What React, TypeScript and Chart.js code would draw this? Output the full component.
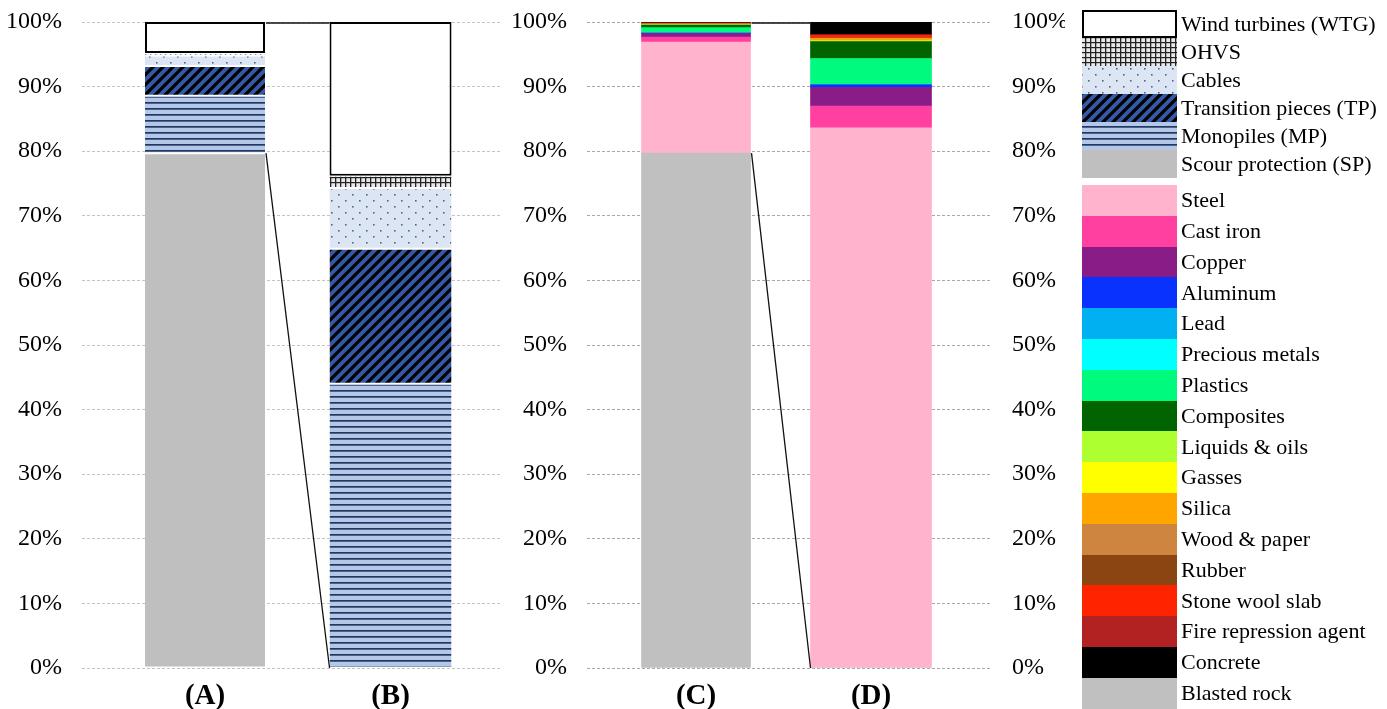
import React, { useEffect, useRef } from 'react';
import { Chart, registerables } from 'chart.js';

Chart.register(...registerables);

const FONT = "'Liberation Serif', 'Times New Roman', serif";

// ---------- Left panel: components (bottom -> top) ----------
const PANEL1_BARS = ['(A)', '(B)'];
const COMPONENTS = ['Scour protection (SP)', 'Monopiles (MP)', 'Transition pieces (TP)', 'Cables', 'OHVS', 'Wind turbines (WTG)'];
const COMPONENT_KEYS = ['SP', 'MP', 'TP', 'Cables', 'OHVS', 'WTG'];
const BAR_A = [79.7, 8.9, 4.6, 1.6, 0.4, 4.8];
const BAR_B = [0, 44.0, 20.9, 9.4, 1.9, 23.8];

// ---------- Right panel: materials (bottom -> top) ----------
const PANEL2_BARS = ['(C)', '(D)'];
const MATERIALS = [
  'Blasted rock', 'Steel', 'Cast iron', 'Copper', 'Aluminum', 'Lead', 'Precious metals', 'Plastics',
  'Composites', 'Liquids & oils', 'Gasses', 'Silica', 'Wood & paper', 'Rubber', 'Stone wool slab',
  'Fire repression agent', 'Concrete',
];
const MATERIAL_COLORS = [
  '#C0C0C0', '#FFB3CD', '#FF40A0', '#8A1C88', '#0A32FF', '#00B0F0', '#00FFFF', '#00FA7E',
  '#006400', '#ADFF2F', '#FFFF00', '#FFA500', '#CD853F', '#8B4513', '#FF2400',
  '#B22222', '#000000',
];
const BAR_C = [79.7, 17.2, 0.75, 0.6, 0.05, 0.01, 0.01, 0.8, 0.4, 0.03, 0.02, 0.1, 0.03, 0.03, 0.1, 0.02, 0.15];
const BAR_D = [0, 83.63, 3.35, 2.9, 0.4, 0.05, 0.02, 4.0, 2.6, 0.1, 0.05, 0.35, 0.05, 0.05, 0.4, 0.1, 1.95];

const Y_TICKS_STEP = 10;

function makeFill(kind: string): any {
  const c = document.createElement('canvas');
  const g = c.getContext('2d')!;
  switch (kind) {
    case 'SP':
      return '#BFBFBF';
    case 'WTG':
      return '#FFFFFF';
    case 'MP':
      c.width = 8; c.height = 6;
      g.fillStyle = '#B4C7E7'; g.fillRect(0, 0, 8, 6);
      g.fillStyle = '#1F3864'; g.fillRect(0, 0, 8, 1.7);
      break;
    case 'TP':
      c.width = 10; c.height = 10;
      g.fillStyle = '#3559A6'; g.fillRect(0, 0, 10, 10);
      g.strokeStyle = '#000'; g.lineWidth = 3.2;
      g.beginPath();
      g.moveTo(-5, 5); g.lineTo(5, -5);
      g.moveTo(0, 10); g.lineTo(10, 0);
      g.moveTo(5, 15); g.lineTo(15, 5);
      g.stroke();
      break;
    case 'Cables':
      c.width = 14; c.height = 12;
      g.fillStyle = '#DCE5F4'; g.fillRect(0, 0, 14, 12);
      g.fillStyle = '#55657F';
      g.fillRect(2, 2, 1.6, 1.6); g.fillRect(9, 8, 1.6, 1.6);
      break;
    case 'OHVS':
      c.width = 5; c.height = 5;
      g.fillStyle = '#E8E8E8'; g.fillRect(0, 0, 5, 5);
      g.fillStyle = '#222';
      g.fillRect(0, 0, 1.3, 5); g.fillRect(0, 2, 5, 1.2);
      break;
  }
  return g.createPattern(c, 'repeat');
}

const fitVertical = (width: number) => (s: any) => {
  s.width = width;
  s.paddingTop = 0;
  s.paddingBottom = 0;
};

const yAxis = (gridColor: string) => ({
  min: 0,
  max: 100,
  stacked: true,
  grid: { color: gridColor, drawTicks: false, lineWidth: 1 },
  border: { display: false, dash: [3, 2] },
  afterFit: fitVertical(82),
  ticks: {
    stepSize: Y_TICKS_STEP,
    padding: 20,
    color: '#000',
    font: { family: FONT, size: 24 },
    callback: (v: any) => v + '%',
  },
});

const xAxis = (labels: string[], min: number, max: number) => ({
  type: 'linear',
  min,
  max,
  offset: false,
  stacked: true,
  grid: { display: false, drawTicks: false, offset: false },
  border: { display: false },
  afterBuildTicks: (s: any) => { s.ticks = labels.map((_, i) => ({ value: i })); },
  afterFit: (s: any) => { s.height = 41; },
  ticks: {
    autoSkip: false,
    maxRotation: 0,
    padding: 11,
    color: '#000',
    font: { family: FONT, size: 29, weight: 'bold' },
    callback: (v: any) => labels[v] ?? '',
  },
});

const connectorPlugin = (perBar: number, low: number) => ({
  id: 'connectors',
  afterDatasetsDraw(chart: any) {
    const ctx = chart.ctx;
    const y = chart.scales.y;
    const ea = chart.getDatasetMeta(0).data[0];
    const eb = chart.getDatasetMeta(perBar).data[0];
    const ax = ea.x + ea.width / 2 + 1;
    const bx = eb.x - eb.width / 2;
    ctx.save();
    ctx.strokeStyle = '#111';
    ctx.lineWidth = 1.3;
    ctx.beginPath();
    ctx.moveTo(ax, y.getPixelForValue(100) + 1);
    ctx.lineTo(bx, y.getPixelForValue(100) + 1);
    ctx.moveTo(ax, y.getPixelForValue(low));
    ctx.lineTo(bx, y.getPixelForValue(0));
    ctx.stroke();
    ctx.restore();
  },
});

const legendPlugin = {
  id: 'customLegend',
  afterDraw(chart: any) {
    const ctx = chart.ctx;
    const boxX = 577;
    const boxW = 95;
    ctx.save();
    ctx.font = `22px ${FONT}`;
    ctx.textBaseline = 'middle';
    ctx.textAlign = 'left';
    // components legend (top -> bottom)
    const compOrder = COMPONENTS.map((_, i) => i).reverse();
    const top1 = 10, h1 = 28;
    compOrder.forEach((ci, k) => {
      const y0 = top1 + k * h1;
      ctx.fillStyle = makeFill(COMPONENT_KEYS[ci]);
      ctx.fillRect(boxX, y0, boxW, h1);
      if (COMPONENT_KEYS[ci] === 'WTG') {
        ctx.strokeStyle = '#000';
        ctx.lineWidth = 2;
        ctx.strokeRect(boxX + 1, y0 + 1, boxW - 2, h1 - 2);
      }
      ctx.fillStyle = '#000';
      ctx.fillText(COMPONENTS[ci], boxX + boxW + 4, y0 + h1 / 2 + 1);
    });
    // materials legend
    const matOrder = MATERIALS.map((_, i) => i).slice(1).concat([0]);
    const top2 = 185, h2 = 30.8;
    matOrder.forEach((mi, k) => {
      const y0 = top2 + k * h2;
      ctx.fillStyle = MATERIAL_COLORS[mi];
      ctx.fillRect(boxX, Math.round(y0), boxW, Math.round(y0 + h2) - Math.round(y0));
      ctx.fillStyle = '#000';
      ctx.fillText(MATERIALS[mi], boxX + boxW + 4, y0 + h2 / 2 + 1);
    });
    ctx.restore();
  },
};

export default function App() {
  const ref1 = useRef<HTMLCanvasElement>(null);
  const ref2 = useRef<HTMLCanvasElement>(null);

  useEffect(() => {
    const bars1 = [BAR_A, BAR_B];
    const widths1 = [120, 122];
    const ds1: any[] = [];
    bars1.forEach((vals, b) => {
      vals.forEach((v, i) => {
        const key = COMPONENT_KEYS[i];
        const isWtg = key === 'WTG';
        ds1.push({
          label: COMPONENTS[i],
          data: [{ x: b, y: v }],
          backgroundColor: makeFill(key),
          borderColor: isWtg ? '#000' : '#FFFFFF',
          borderWidth: isWtg ? 2 : { top: 1, bottom: 1, left: 0, right: 0 },
          borderSkipped: false,
          inflateAmount: 0,
          barThickness: widths1[b],
        });
      });
    });

    const bars2 = [BAR_C, BAR_D];
    const widths2 = [109, 121];
    const ds2: any[] = [];
    bars2.forEach((vals, b) => {
      vals.forEach((v, i) => {
        ds2.push({
          label: MATERIALS[i],
          data: [{ x: b, y: v }],
          backgroundColor: MATERIAL_COLORS[i],
          borderWidth: 0,
          barThickness: widths2[b],
        });
      });
    });

    const c1 = new Chart(ref1.current!, {
      type: 'bar',
      data: { datasets: ds1 },
      options: {
        responsive: false,
        animation: false,
        layout: { padding: { top: 22, right: 5, bottom: 0, left: 0 } },
        plugins: { legend: { display: false }, tooltip: { enabled: false } },
        scales: {
          x: xAxis(PANEL1_BARS, -0.663, 1.59) as any,
          y: yAxis('#C4C4C4') as any,
        },
      },
      plugins: [connectorPlugin(COMPONENTS.length, BAR_A[0])],
    });

    const c2 = new Chart(ref2.current!, {
      type: 'bar',
      data: { datasets: ds2 },
      options: {
        responsive: false,
        animation: false,
        layout: { padding: { top: 22, right: 322, bottom: 0, left: 0 } },
        plugins: { legend: { display: false }, tooltip: { enabled: false } },
        scales: {
          x: xAxis(PANEL2_BARS, -0.623, 1.68) as any,
          y: yAxis('#A8A8A8') as any,
          y2: {
            position: 'right',
            min: 0,
            max: 100,
            display: true,
            grid: { display: false, drawTicks: false },
            border: { display: false },
            afterFit: fitVertical(75),
            ticks: {
              stepSize: Y_TICKS_STEP,
              padding: 22,
              color: '#000',
              font: { family: FONT, size: 24 },
              callback: (v: any) => v + '%',
            },
          } as any,
        },
      },
      plugins: [connectorPlugin(MATERIALS.length, BAR_C[0]), legendPlugin],
    });

    return () => { c1.destroy(); c2.destroy(); };
  }, []);

  return (
    <div style={{ position: 'fixed', left: 0, top: 0, width: 1387, height: 709, background: '#fff' }}>
      <canvas ref={ref1} width={505} height={709} style={{ position: 'absolute', left: 0, top: 0 }} />
      <canvas ref={ref2} width={882} height={709} style={{ position: 'absolute', left: 505, top: 0 }} />
    </div>
  );
}
